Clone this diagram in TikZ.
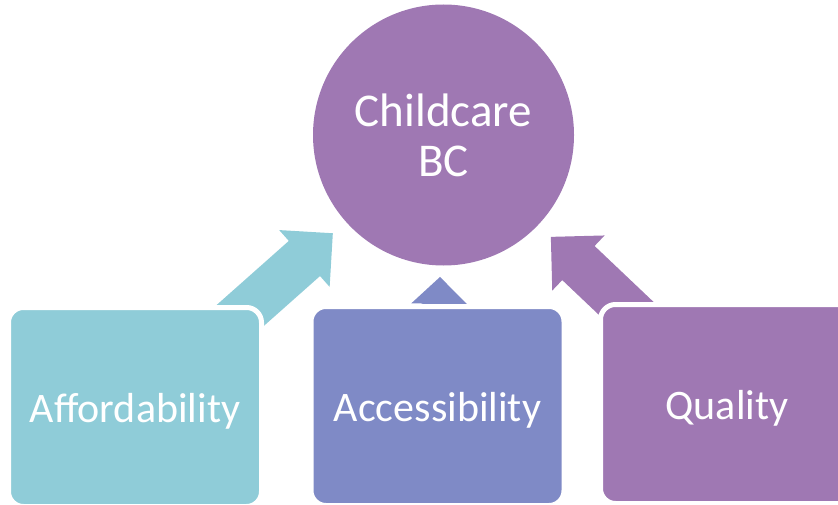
\documentclass[tikz,border=0pt]{standalone}
\usepackage{fontspec}
\setmainfont{Carlito}
\usetikzlibrary{calc}
\usetikzlibrary{positioning}
\definecolor{tealbox}{HTML}{8FCCD8}
\definecolor{bluebox}{HTML}{7F8AC6}
\definecolor{purplebox}{HTML}{9F78B3}
\tikzstyle{hub}=[circle,fill=purplebox,text=white,minimum size=261pt,inner sep=0pt,align=center,font=\fontsize{47}{50}\selectfont]
\tikzstyle{pillar}=[rectangle,rounded corners=15pt,draw=white,line width=5pt,text=white,minimum width=253pt,minimum height=199pt,inner sep=0pt,text height=31pt,text depth=0pt,font=\fontsize{42}{50}\selectfont]

\begin{document}
\begin{tikzpicture}[x=1pt,y=1pt]
    \useasboundingbox (0,0) rectangle (838,-505);

    \node[hub] (care) at (443.5,-135) {Childcare\\BC};

    % block arrows first, the boxes cover their tails
    \foreach \name/\ang/\dist/\head/\wide/\shaft/\len/\col in {afford/221.6/148/38/38/23.5/170/tealbox, access/268.6/142/27/28/17/45/bluebox, quality/316.5/148/38/38/23.5/170/purplebox}
    {
        \coordinate (\name-tip) at ($(care.center)+(\ang:\dist)$);
        \fill[\col, shift={(\name-tip)}, rotate=\ang] (0,0) -- (\head,\wide) -- (\head,\shaft) -- (\len,\shaft) -- (\len,-\shaft) -- (\head,-\shaft) -- (\head,-\wide) -- cycle;
    }

    \foreach \pos/\name/\label/\col in {{(135,-407)/afford/Affordability/tealbox}, {(437.5,-406)/access/Accessibility/bluebox}, {(727,-404)/quality/Quality/purplebox}}
        \node[pillar, fill=\col] (\name) at \pos {\label};

\end{tikzpicture}
\end{document}
